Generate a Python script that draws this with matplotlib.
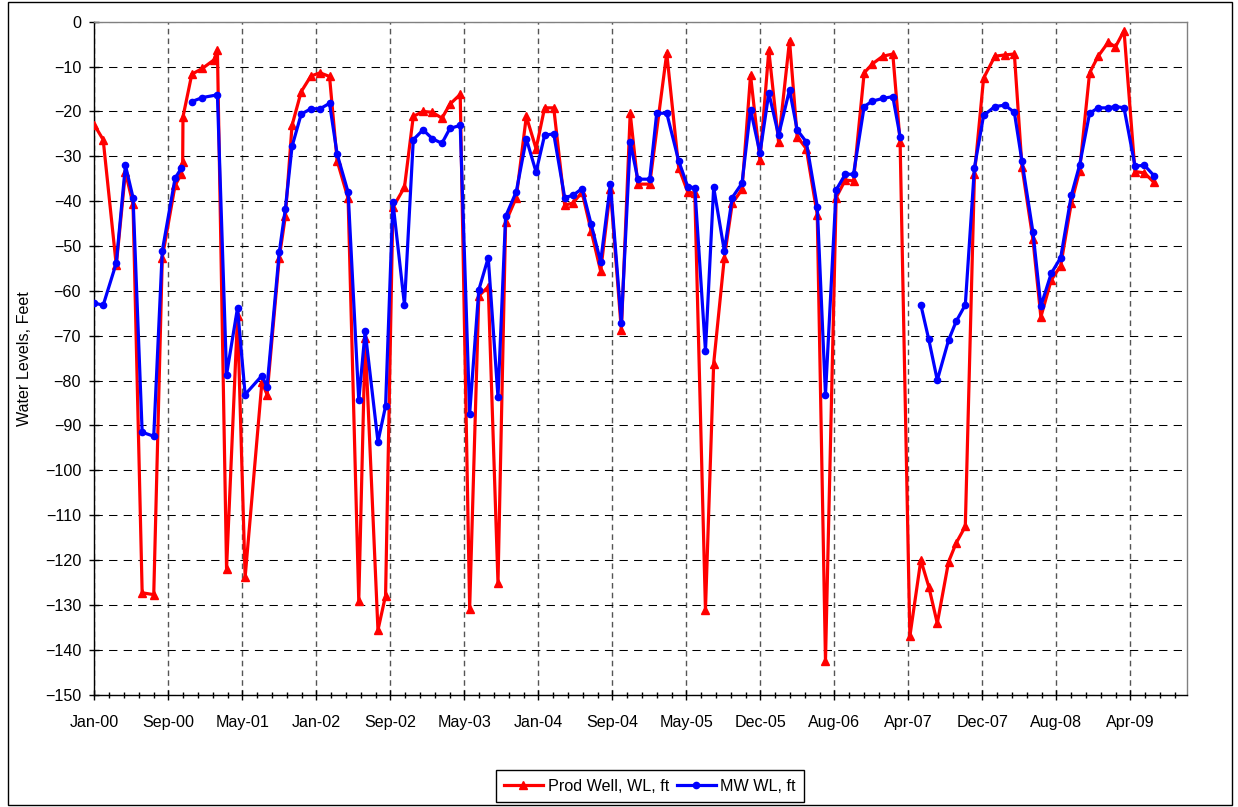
#coding:utf-8
# Water levels, production well vs monitoring well (2000-2009)
import numpy as np
import pandas as pd
import matplotlib
matplotlib.use("Agg")
import matplotlib.pyplot as plt
import matplotlib.dates as mdates
from matplotlib.patches import Rectangle
from matplotlib.ticker import MultipleLocator, FixedLocator

plt.rcParams['font.family'] = ['Liberation Sans', 'DejaVu Sans']
fsize = 11.6

# Prod Well, WL, ft
prod_dates = ["2000-01-06","2000-02-04","2000-03-18","2000-04-17","2000-05-12","2000-06-11","2000-07-19","2000-08-16",
              "2000-09-27","2000-10-17","2000-10-22","2000-10-23","2000-11-21","2000-12-26","2001-02-02","2001-02-13",
              "2001-03-15","2001-04-20","2001-05-15","2001-07-09","2001-07-26","2001-09-04","2001-09-24","2001-10-16",
              "2001-11-15","2001-12-17","2002-01-16","2002-02-16","2002-03-13","2002-04-18","2002-05-23","2002-06-13",
              "2002-07-25","2002-08-19","2002-09-12","2002-10-20","2002-11-18","2002-12-20","2003-01-20","2003-02-20",
              "2003-03-18","2003-04-21","2003-05-22","2003-06-21","2003-07-22","2003-08-23","2003-09-17","2003-10-22",
              "2003-11-24","2003-12-26","2004-01-23","2004-02-22","2004-03-29","2004-04-25","2004-05-25","2004-06-24",
              "2004-07-25","2004-08-26","2004-10-01","2004-10-30","2004-11-24","2005-01-02","2005-02-27","2005-04-07",
              "2005-05-07","2005-05-30","2005-07-04","2005-07-31","2005-09-04","2005-09-30","2005-11-01","2005-11-29",
              "2005-12-30","2006-01-28","2006-03-01","2006-04-06","2006-05-01","2006-05-31","2006-07-06","2006-08-02",
              "2006-09-06","2006-10-06","2006-11-02","2006-12-07","2007-01-03","2007-02-06","2007-03-11","2007-04-04",
              "2007-05-06","2007-06-11","2007-07-07","2007-08-04","2007-09-10","2007-10-05","2007-11-04","2007-12-04",
              "2008-01-03","2008-02-09","2008-03-13","2008-04-13","2008-05-08","2008-06-13","2008-07-09","2008-08-12",
              "2008-09-12","2008-10-17","2008-11-13","2008-12-16","2009-01-13","2009-02-15","2009-03-11","2009-04-08",
              "2009-05-14","2009-06-14","2009-07-15"]
prod_wl = [-23.0, -26.3, -54.3, -33.5, -40.7, -127.3, -127.7, -52.6,
           -36.5, -34.0, -31.2, -21.2, -11.7, -10.4, -8.5, -6.3,
           -121.9, -65.6, -123.8, -80.4, -83.1, -52.6, -43.4, -23.1,
           -15.6, -12.1, -11.4, -12.2, -31.0, -39.4, -129.1, -70.5,
           -135.6, -127.9, -41.4, -36.9, -21.1, -20.0, -20.2, -21.5,
           -18.4, -16.2, -130.8, -61.1, -59.1, -125.1, -44.7, -39.2,
           -21.1, -28.3, -19.2, -19.2, -40.9, -40.4, -38.0, -46.7,
           -55.6, -37.4, -68.8, -20.4, -36.2, -36.2, -7.0, -32.5,
           -38.0, -38.2, -131.1, -76.2, -52.6, -40.5, -37.4, -11.9,
           -30.8, -6.4, -26.8, -4.2, -25.6, -28.3, -43.0, -142.5,
           -39.2, -35.3, -35.5, -11.4, -9.4, -7.7, -7.2, -26.8,
           -137.0, -120.0, -125.9, -134.1, -120.4, -116.2, -112.5, -34.0,
           -12.6, -7.7, -7.4, -7.2, -32.3, -48.5, -65.8, -57.6,
           -54.4, -40.4, -33.3, -11.4, -7.7, -4.6, -5.6, -2.0,
           -33.4, -33.7, -35.8]

# MW WL, ft  (nan = blank cell, line is broken there)
mw_dates = ["2000-01-06","2000-02-04","2000-03-18","2000-04-17","2000-05-12","2000-06-11","2000-07-19","2000-08-16",
            "2000-09-27","2000-10-17","2000-10-22","2000-11-21","2000-12-26","2001-02-13","2001-03-15","2001-04-20",
            "2001-05-15","2001-07-09","2001-07-26","2001-09-04","2001-09-24","2001-10-16","2001-11-15","2001-12-17",
            "2002-01-16","2002-02-16","2002-03-13","2002-04-18","2002-05-23","2002-06-13","2002-07-25","2002-08-19",
            "2002-09-12","2002-10-20","2002-11-18","2002-12-20","2003-01-20","2003-02-20","2003-03-18","2003-04-21",
            "2003-05-22","2003-06-21","2003-07-22","2003-08-23","2003-09-17","2003-10-22","2003-11-24","2003-12-26",
            "2004-01-23","2004-02-22","2004-03-29","2004-04-25","2004-05-25","2004-06-24","2004-07-25","2004-08-26",
            "2004-10-01","2004-10-30","2004-11-24","2005-01-02","2005-01-25","2005-02-27","2005-04-07","2005-05-07",
            "2005-05-30","2005-07-04","2005-07-31","2005-09-04","2005-09-30","2005-11-01","2005-11-29","2005-12-30",
            "2006-01-28","2006-03-01","2006-04-06","2006-05-01","2006-05-31","2006-07-06","2006-08-02","2006-09-06",
            "2006-10-06","2006-11-02","2006-12-07","2007-01-03","2007-02-06","2007-03-11","2007-04-04","2007-05-06",
            "2007-06-11","2007-07-07","2007-08-04","2007-09-10","2007-10-05","2007-11-04","2007-12-04","2008-01-03",
            "2008-02-09","2008-03-13","2008-04-13","2008-05-08","2008-06-13","2008-07-09","2008-08-12","2008-09-12",
            "2008-10-17","2008-11-13","2008-12-16","2009-01-13","2009-02-15","2009-03-11","2009-04-08","2009-05-14",
            "2009-06-14","2009-07-15"]
mw_wl = [-62.7, -63.2, -53.8, -32.0, -39.2, -91.5, -92.4, -51.1,
         -34.9, -32.7, np.nan, -17.8, -16.9, -16.3, -78.7, -63.8,
         -83.1, -78.9, -81.4, -51.4, -41.7, -27.8, -20.6, -19.4,
         -19.4, -18.2, -29.5, -38.0, -84.4, -69.0, -93.6, -85.7,
         -40.2, -63.1, -26.3, -24.1, -26.1, -27.1, -23.8, -23.1,
         -87.4, -59.8, -52.6, -83.7, -43.4, -37.9, -26.1, -33.5,
         -25.3, -25.0, -39.2, -38.7, -37.2, -45.2, -53.5, -36.2,
         -67.2, -26.8, -35.1, -35.1, -20.4, -20.4, -31.0, -36.8,
         -37.0, -73.3, -36.9, -51.1, -39.2, -36.0, -19.6, -29.3,
         -15.9, -25.3, -15.2, -24.1, -26.8, -41.2, -83.1, -37.5,
         -34.0, -34.0, -18.9, -17.7, -17.1, -16.7, -25.6, np.nan,
         -63.1, -70.8, -79.9, -71.0, -66.8, -63.1, -32.5, -20.9,
         -18.9, -18.6, -20.2, -31.1, -46.9, -63.4, -56.1, -52.6,
         -38.7, -32.0, -20.4, -19.2, -19.2, -18.9, -19.2, -32.2,
         -32.0, -34.3]

xtick_labels = ["Jan-00","Sep-00","May-01","Jan-02","Sep-02","May-03","Jan-04","Sep-04",
                "May-05","Dec-05","Aug-06","Apr-07","Dec-07","Aug-08","Apr-09"]

# excel style axis: min + major unit in days
x_min = mdates.date2num(pd.Timestamp("2000-01-06"))
x_step = 242.9
x_max = x_min + 3586.7

prod_x = mdates.date2num(pd.to_datetime(prod_dates))
mw_x = mdates.date2num(pd.to_datetime(mw_dates))

fig = plt.figure(figsize=(12.38, 8.07), dpi=100, facecolor="white")
ax = fig.add_axes((0.0762, 0.1392, 0.8826, 0.8339))

# chart area border
fig.patches.append(Rectangle((0.0065, 0.003), 0.989, 0.994, transform=fig.transFigure,
                             fill=False, edgecolor="black", linewidth=1.0))

ax.plot(prod_x, prod_wl, color="#ff0000", linewidth=2.3, marker="^", markersize=5.5,
        label="Prod Well, WL, ft", zorder=3)
ax.plot(mw_x, mw_wl, color="#0000ff", linewidth=2.3, marker="o", markersize=4.5,
        label="MW WL, ft", zorder=4)

ax.set_xlim(x_min, x_max)
ax.set_ylim(-150, 0)

xticks = x_min + x_step * np.arange(len(xtick_labels))
ax.xaxis.set_major_locator(FixedLocator(xticks))
ax.set_xticklabels(xtick_labels)
ax.xaxis.set_minor_locator(FixedLocator(x_min + x_step / 5 * np.arange(5 * len(xtick_labels) + 4)))
ax.yaxis.set_major_locator(MultipleLocator(10))

ax.tick_params(axis="both", which="major", direction="inout", length=7, width=1, labelsize=fsize, color="black")
ax.tick_params(axis="x", which="major", pad=11)
ax.tick_params(axis="y", which="major", pad=6)
ax.tick_params(axis="x", which="minor", direction="inout", length=4, width=1, color="black")

# gridlines
ax.grid(True, axis="y", which="major", color="black", linewidth=0.75, linestyle=(0, (8, 6)))
ax.grid(True, axis="x", which="major", color="#555555", linewidth=1.0, linestyle=(0, (4, 3)))
ax.set_axisbelow(True)

for side in ["left", "bottom"]:
    ax.spines[side].set_color("black")
    ax.spines[side].set_linewidth(1.0)
for side in ["top", "right"]:
    ax.spines[side].set_color("#808080")
    ax.spines[side].set_linewidth(1.0)

ax.set_ylabel("Water Levels, Feet", fontsize=fsize)
ax.yaxis.set_label_coords(-0.057, 0.5)

leg = fig.legend(loc="center", bbox_to_anchor=(0.525, 0.026), ncol=2, fontsize=fsize,
                 frameon=True, fancybox=False, edgecolor="black", framealpha=1.0,
                 handlelength=2.4, handletextpad=0.3, columnspacing=0.5, borderpad=0.5)
leg.get_frame().set_linewidth(1.0)

fig.savefig("out.png", dpi=100, facecolor="white")
